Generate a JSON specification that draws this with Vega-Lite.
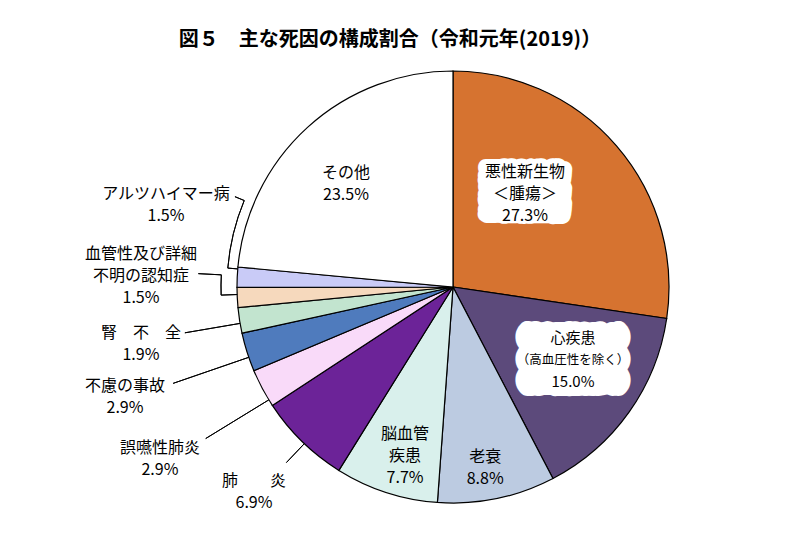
{
  "$schema": "https://vega.github.io/schema/vega-lite/v6.json",
  "width": 690,
  "height": 526,
  "autosize": "none",
  "padding": {"left": 108, "top": 24, "right": 2, "bottom": 1},
  "background": "white",
  "title": {
    "text": "図５　主な死因の構成割合（令和元年(2019)）",
    "font": "Noto Sans CJK JP",
    "fontSize": 20,
    "fontWeight": "bold",
    "color": "black",
    "anchor": "middle",
    "baseline": "middle",
    "offset": 0,
    "dx": -63,
    "dy": 82
  },
  "config": {
    "view": {"stroke": null},
    "font": "Noto Sans CJK JP",
    "text": {"font": "Noto Sans CJK JP", "color": "black"}
  },
  "datasets": {
    "causes": [
      {"cause": "悪性新生物", "label": "悪性新生物\n＜腫瘍＞\n27.3%", "note": "", "value": 27.3, "order": 1},
      {"cause": "心疾患", "label": "心疾患\n15.0%", "note": "（高血圧性を除く）", "value": 15.0, "order": 2},
      {"cause": "老衰", "label": "老衰\n8.8%", "note": "", "value": 8.8, "order": 3},
      {"cause": "脳血管疾患", "label": "脳血管\n疾患\n7.7%", "note": "", "value": 7.7, "order": 4},
      {"cause": "肺炎", "label": "肺　　炎\n6.9%", "note": "", "value": 6.9, "order": 5},
      {"cause": "誤嚥性肺炎", "label": "誤嚥性肺炎\n2.9%", "note": "", "value": 2.9, "order": 6},
      {"cause": "不慮の事故", "label": "不慮の事故\n2.9%", "note": "", "value": 2.9, "order": 7},
      {"cause": "腎不全", "label": "腎　不　全\n1.9%", "note": "", "value": 1.9, "order": 8},
      {"cause": "血管性及び詳細不明の認知症", "label": "血管性及び詳細\n不明の認知症\n1.5%", "note": "", "value": 1.5, "order": 9},
      {"cause": "アルツハイマー病", "label": "アルツハイマー病\n1.5%", "note": "", "value": 1.5, "order": 10},
      {"cause": "その他", "label": "その他\n23.5%", "note": "", "value": 23.5, "order": 11}
    ]
  },
  "data": {"name": "causes"},
  "encoding": {
    "theta": {"field": "value", "type": "quantitative", "stack": true},
    "order": {"field": "order", "type": "quantitative"}
  },
  "layer": [
    {
      "mark": {"type": "arc", "outerRadius": 216, "stroke": "black", "strokeWidth": 1.2},
      "encoding": {
        "color": {
          "field": "cause",
          "type": "nominal",
          "legend": null,
          "scale": {
            "domain": ["悪性新生物", "心疾患", "老衰", "脳血管疾患", "肺炎", "誤嚥性肺炎", "不慮の事故", "腎不全", "血管性及び詳細不明の認知症", "アルツハイマー病", "その他"],
            "range": ["#D67330", "#5C4A7B", "#BCCBE1", "#D9F0EC", "#6C2398", "#F9DAF9", "#4F7BBD", "#C2E4CF", "#F6D9BD", "#C9CBF7", "#FFFFFF"]
          }
        }
      }
    },
    {"mark": {"type": "text", "radius": 117, "dx": -16.6, "dy": -35.5, "fontSize": 16, "fill": "white", "stroke": "white", "strokeWidth": 16, "strokeJoin": "round", "align": "center", "baseline": "middle"},
     "encoding": {"text": {"condition": {"test": "datum.cause === '悪性新生物'", "field": "cause"}, "value": ""}}},
    {"mark": {"type": "text", "radius": 117, "dx": -16.6, "dy": -16.5, "fontSize": 16, "fill": "white", "stroke": "white", "strokeWidth": 16, "strokeJoin": "round", "align": "center", "baseline": "middle"},
     "encoding": {"text": {"condition": {"test": "datum.cause === '悪性新生物'", "field": "cause"}, "value": ""}}},
    {"mark": {"type": "text", "radius": 117, "dx": -16.6, "dy": -1.5, "fontSize": 16, "fill": "white", "stroke": "white", "strokeWidth": 16, "strokeJoin": "round", "align": "center", "baseline": "middle"},
     "encoding": {"text": {"condition": {"test": "datum.cause === '悪性新生物'", "field": "cause"}, "value": ""}}},
    {"mark": {"type": "text", "radius": 138, "dx": 7.5, "dy": -29, "fontSize": 12.5, "fill": "white", "stroke": "white", "strokeWidth": 20, "strokeJoin": "round", "align": "center", "baseline": "middle"},
     "encoding": {"text": {"condition": {"test": "datum.cause === '心疾患'", "field": "note"}, "value": ""}}},
    {"mark": {"type": "text", "radius": 138, "dx": 7.5, "dy": -7, "fontSize": 12.5, "fill": "white", "stroke": "white", "strokeWidth": 20, "strokeJoin": "round", "align": "center", "baseline": "middle"},
     "encoding": {"text": {"condition": {"test": "datum.cause === '心疾患'", "field": "note"}, "value": ""}}},
    {"mark": {"type": "text", "radius": 138, "dx": 7.5, "dy": 14, "fontSize": 12.5, "fill": "white", "stroke": "white", "strokeWidth": 20, "strokeJoin": "round", "align": "center", "baseline": "middle"},
     "encoding": {"text": {"condition": {"test": "datum.cause === '心疾患'", "field": "note"}, "value": ""}}},
    {
      "transform": [
        {"stack": "value", "groupby": [], "sort": [{"field": "order", "order": "ascending"}], "as": ["s0", "s1"]},
        {"filter": "datum.cause === '腎不全'"}
      ],
      "mark": {"type": "arc", "innerRadius": 216, "outerRadius": 272, "thetaOffset": 0.04612, "theta2Offset": 0.04612, "filled": false, "stroke": "black", "strokeWidth": 1},
      "encoding": {"theta": {"field": "s0", "type": "quantitative", "stack": null}, "theta2": {"field": "s0"}}
    },
    {
      "transform": [
        {"stack": "value", "groupby": [], "sort": [{"field": "order", "order": "ascending"}], "as": ["s0", "s1"]},
        {"filter": "datum.cause === '不慮の事故'"}
      ],
      "mark": {"type": "arc", "innerRadius": 216, "outerRadius": 296, "thetaOffset": 0.0662, "theta2Offset": 0.0662, "filled": false, "stroke": "black", "strokeWidth": 1},
      "encoding": {"theta": {"field": "s0", "type": "quantitative", "stack": null}, "theta2": {"field": "s0"}}
    },
    {
      "transform": [
        {"stack": "value", "groupby": [], "sort": [{"field": "order", "order": "ascending"}], "as": ["s0", "s1"]},
        {"filter": "datum.cause === '誤嚥性肺炎'"}
      ],
      "mark": {"type": "arc", "innerRadius": 216, "outerRadius": 290, "thetaOffset": 0.03043, "theta2Offset": 0.03043, "filled": false, "stroke": "black", "strokeWidth": 1},
      "encoding": {"theta": {"field": "s0", "type": "quantitative", "stack": null}, "theta2": {"field": "s0"}}
    },
    {
      "transform": [
        {"stack": "value", "groupby": [], "sort": [{"field": "order", "order": "ascending"}], "as": ["s0", "s1"]},
        {"filter": "datum.cause === '肺炎'"}
      ],
      "mark": {"type": "arc", "innerRadius": 216, "outerRadius": 242, "thetaOffset": 0.2026, "theta2Offset": 0.2026, "filled": false, "stroke": "black", "strokeWidth": 1},
      "encoding": {"theta": {"field": "s0", "type": "quantitative", "stack": null}, "theta2": {"field": "s0"}}
    },
    {
      "transform": [
        {"stack": "value", "groupby": [], "sort": [{"field": "order", "order": "ascending"}], "as": ["s0", "s1"]},
        {"filter": "datum.cause === '血管性及び詳細不明の認知症'"}
      ],
      "layer": [
        {"mark": {"type": "arc", "innerRadius": 216, "outerRadius": 232, "thetaOffset": 0.06101, "theta2Offset": 0.06101, "filled": false, "stroke": "black", "strokeWidth": 1},
         "encoding": {"theta": {"field": "s0", "type": "quantitative", "stack": null}, "theta2": {"field": "s0"}}},
        {"mark": {"type": "arc", "innerRadius": 232, "outerRadius": 232, "thetaOffset": 0.06101, "theta2Offset": 0.14828, "filled": false, "stroke": "black", "strokeWidth": 1},
         "encoding": {"theta": {"field": "s0", "type": "quantitative", "stack": null}, "theta2": {"field": "s0"}}},
        {"mark": {"type": "arc", "innerRadius": 232, "outerRadius": 255, "thetaOffset": 0.14828, "theta2Offset": 0.14828, "filled": false, "stroke": "black", "strokeWidth": 1},
         "encoding": {"theta": {"field": "s0", "type": "quantitative", "stack": null}, "theta2": {"field": "s0"}}}
      ]
    },
    {
      "transform": [
        {"stack": "value", "groupby": [], "sort": [{"field": "order", "order": "ascending"}], "as": ["s0", "s1"]},
        {"filter": "datum.cause === 'アルツハイマー病'"}
      ],
      "layer": [
        {"mark": {"type": "arc", "innerRadius": 216, "outerRadius": 226, "thetaOffset": 0.08536, "theta2Offset": 0.08536, "filled": false, "stroke": "black", "strokeWidth": 1},
         "encoding": {"theta": {"field": "s0", "type": "quantitative", "stack": null}, "theta2": {"field": "s0"}}},
        {"mark": {"type": "arc", "innerRadius": 226, "outerRadius": 226, "thetaOffset": 0.08536, "theta2Offset": 0.39428, "filled": false, "stroke": "black", "strokeWidth": 1},
         "encoding": {"theta": {"field": "s0", "type": "quantitative", "stack": null}, "theta2": {"field": "s0"}}},
        {"mark": {"type": "arc", "innerRadius": 226, "outerRadius": 236, "thetaOffset": 0.39428, "theta2Offset": 0.39428, "filled": false, "stroke": "black", "strokeWidth": 1},
         "encoding": {"theta": {"field": "s0", "type": "quantitative", "stack": null}, "theta2": {"field": "s0"}}}
      ]
    },
    {"mark": {"type": "text", "radius": 117, "dx": -16.6, "dy": -38.5, "fontSize": 16, "lineHeight": 22, "lineBreak": "\n", "align": "center", "baseline": "middle"},
     "encoding": {"text": {"condition": {"test": "datum.cause === '悪性新生物'", "field": "label"}, "value": ""}}},
    {"mark": {"type": "text", "radius": 138, "dx": 7.5, "dy": -29, "fontSize": 15, "lineHeight": 44, "lineBreak": "\n", "align": "center", "baseline": "middle"},
     "encoding": {"text": {"condition": {"test": "datum.cause === '心疾患'", "field": "label"}, "value": ""}}},
    {"mark": {"type": "text", "radius": 138, "dx": 7.5, "dy": -7, "fontSize": 12.5, "align": "center", "baseline": "middle"},
     "encoding": {"text": {"condition": {"test": "datum.cause === '心疾患'", "field": "note"}, "value": ""}}},
    {"mark": {"type": "text", "radius": 183, "dx": -5, "dy": -8.7, "fontSize": 16, "lineHeight": 22, "lineBreak": "\n", "align": "center", "baseline": "middle"},
     "encoding": {"text": {"condition": {"test": "datum.cause === '老衰'", "field": "label"}, "value": ""}}},
    {"mark": {"type": "text", "radius": 175, "dx": 6.2, "dy": -19.4, "fontSize": 16, "lineHeight": 22, "lineBreak": "\n", "align": "center", "baseline": "middle"},
     "encoding": {"text": {"condition": {"test": "datum.cause === '脳血管疾患'", "field": "label"}, "value": ""}}},
    {"mark": {"type": "text", "radius": 285, "dx": 0.1, "dy": -10.2, "fontSize": 16, "lineHeight": 22, "lineBreak": "\n", "align": "center", "baseline": "middle"},
     "encoding": {"text": {"condition": {"test": "datum.cause === '肺炎'", "field": "label"}, "value": ""}}},
    {"mark": {"type": "text", "radius": 340, "dx": 7.1, "dy": 1.2, "fontSize": 16, "lineHeight": 22, "lineBreak": "\n", "align": "center", "baseline": "middle"},
     "encoding": {"text": {"condition": {"test": "datum.cause === '誤嚥性肺炎'", "field": "label"}, "value": ""}}},
    {"mark": {"type": "text", "radius": 347, "dx": 2.8, "dy": -5.4, "fontSize": 16, "lineHeight": 22, "lineBreak": "\n", "align": "center", "baseline": "middle"},
     "encoding": {"text": {"condition": {"test": "datum.cause === '不慮の事故'", "field": "label"}, "value": ""}}},
    {"mark": {"type": "text", "radius": 319, "dx": 3.1, "dy": -3, "fontSize": 16, "lineHeight": 22, "lineBreak": "\n", "align": "center", "baseline": "middle"},
     "encoding": {"text": {"condition": {"test": "datum.cause === '腎不全'", "field": "label"}, "value": ""}}},
    {"mark": {"type": "text", "radius": 315, "dx": 2.6, "dy": -48.8, "fontSize": 16, "lineHeight": 22, "lineBreak": "\n", "align": "center", "baseline": "middle"},
     "encoding": {"text": {"condition": {"test": "datum.cause === '血管性及び詳細不明の認知症'", "field": "label"}, "value": ""}}},
    {"mark": {"type": "text", "radius": 300, "dx": 12.7, "dy": -78.9, "fontSize": 16, "lineHeight": 22, "lineBreak": "\n", "align": "center", "baseline": "middle"},
     "encoding": {"text": {"condition": {"test": "datum.cause === 'アルツハイマー病'", "field": "label"}, "value": ""}}},
    {"mark": {"type": "text", "radius": 152, "dx": -4.6, "dy": -1.7, "fontSize": 16, "lineHeight": 22, "lineBreak": "\n", "align": "center", "baseline": "middle"},
     "encoding": {"text": {"condition": {"test": "datum.cause === 'その他'", "field": "label"}, "value": ""}}}
  ]
}
